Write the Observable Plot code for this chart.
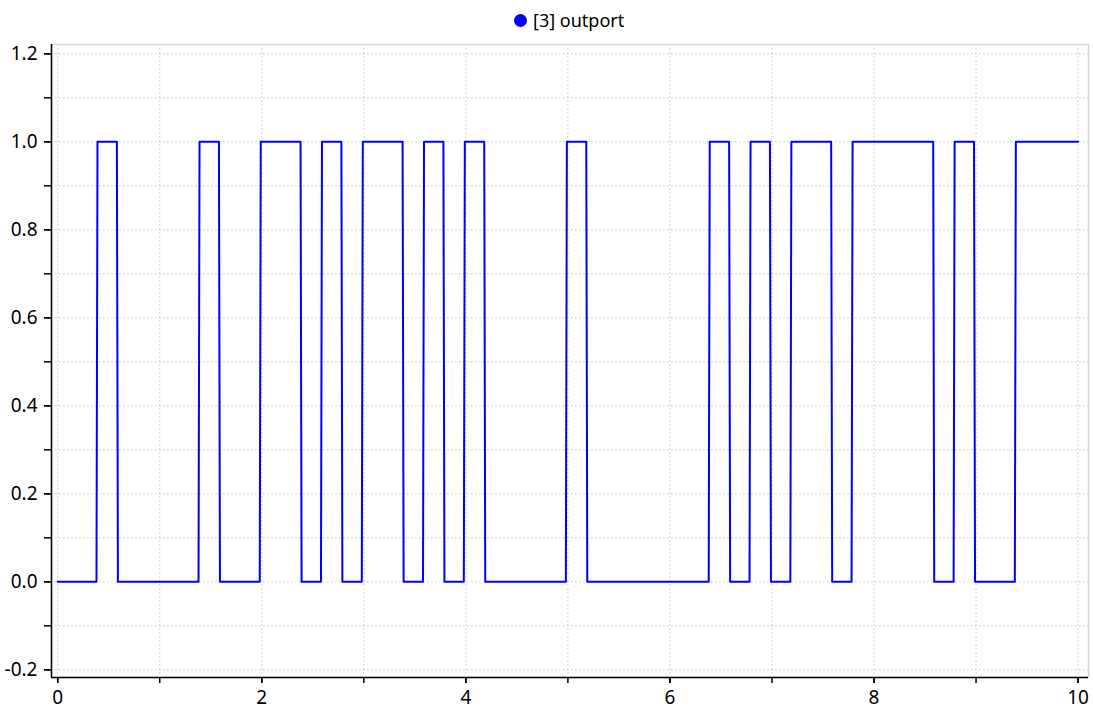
<!DOCTYPE html>
<html><head><meta charset="utf-8">
<script src="https://cdn.jsdelivr.net/npm/d3@7"></script>
<script src="https://cdn.jsdelivr.net/npm/@observablehq/plot@0.6"></script>
<style>
body{margin:0;background:#fff;font-family:"Noto Sans",sans-serif;}
#legend{position:relative;width:1093px;height:34px;}
#legend .dot{position:absolute;left:514px;top:14px;width:13px;height:13px;border-radius:50%;background:#0000ff;}
#legend .lab{position:absolute;left:533px;top:6px;font-size:18px;line-height:28px;color:#000;white-space:nowrap;}
</style></head>
<body>
<div id="legend"><div class="dot"></div><div class="lab">[3] outport</div></div>
<div id="chart"></div>
<script>
const seriesName = "[3] outport";
const time = [0, 0.38, 0.39, 0.58, 0.59, 1.38, 1.39, 1.58, 1.59, 1.98, 1.99, 2.38, 2.39, 2.58, 2.59, 2.78, 2.79,
  2.98, 2.99, 3.38, 3.39, 3.58, 3.59, 3.78, 3.79, 3.98, 3.99, 4.18, 4.19, 4.98, 4.99, 5.18, 5.19,
  6.38, 6.39, 6.58, 6.59, 6.78, 6.79, 6.98, 6.99, 7.18, 7.19, 7.58, 7.59, 7.78, 7.79, 8.58, 8.59,
  8.78, 8.79, 8.98, 8.99, 9.38, 9.39, 10];
const outport = [0, 0, 1, 1, 0, 0, 1, 1, 0, 0, 1, 1, 0, 0, 1, 1, 0,
  0, 1, 1, 0, 0, 1, 1, 0, 0, 1, 1, 0, 0, 1, 1, 0,
  0, 1, 1, 0, 0, 1, 1, 0, 0, 1, 1, 0, 0, 1, 1, 0,
  0, 1, 1, 0, 0, 1, 1];
const xTicks = [0,1,2,3,4,5,6,7,8,9,10];
const xLabels = [0,2,4,6,8,10];
const yTicks = [-0.2,-0.1,0,0.1,0.2,0.3,0.4,0.5,0.6,0.7,0.8,0.9,1.0,1.1,1.2];
const yLabels = [-0.2,0,0.2,0.4,0.6,0.8,1.0,1.2];
const xDomain = [-0.0608, 10.102];
const yDomain = [-0.2175, 1.2211];

const data = time.map((t, i) => ({t, v: outport[i]}));
const grid = {stroke: "#c8c8c8", strokeOpacity: 1, strokeWidth: 1, strokeDasharray: "1.5,2.5"};

const chart = Plot.plot({
  width: 1093, height: 680,
  marginTop: 10, marginBottom: 37, marginLeft: 51, marginRight: 5,
  style: {fontSize: "19px", fontFamily: "'Noto Sans', sans-serif", color: "#000", background: "#fff"},
  x: {domain: xDomain, label: null},
  y: {domain: yDomain, label: null},
  marks: [
    Plot.gridY(yTicks, grid),
    Plot.gridX(xTicks, grid),
    Plot.frame({stroke: "#d4d4d4", strokeWidth: 1.5}),
    Plot.line(data, {x: "t", y: "v", stroke: "#0000ff", strokeWidth: 2, curve: "linear"}),
    Plot.ruleX([xDomain[0]], {stroke: "#000", strokeWidth: 1.5}),
    Plot.ruleY([yDomain[0]], {stroke: "#000", strokeWidth: 1.5}),
    Plot.axisY(yTicks, {tickSize: 7, tickFormat: () => "", strokeWidth: 1.5}),
    Plot.axisY(yLabels, {tickSize: 7, tickPadding: 7, strokeWidth: 1.5, tickFormat: d => d.toFixed(1)}),
    Plot.axisX(xTicks, {tickSize: 6, tickFormat: () => "", strokeWidth: 1.5}),
    Plot.axisX(xLabels, {tickSize: 6, tickPadding: 7, strokeWidth: 1.5, tickFormat: d => String(d)})
  ]
});
document.getElementById("chart").appendChild(chart);
</script>
</body></html>
